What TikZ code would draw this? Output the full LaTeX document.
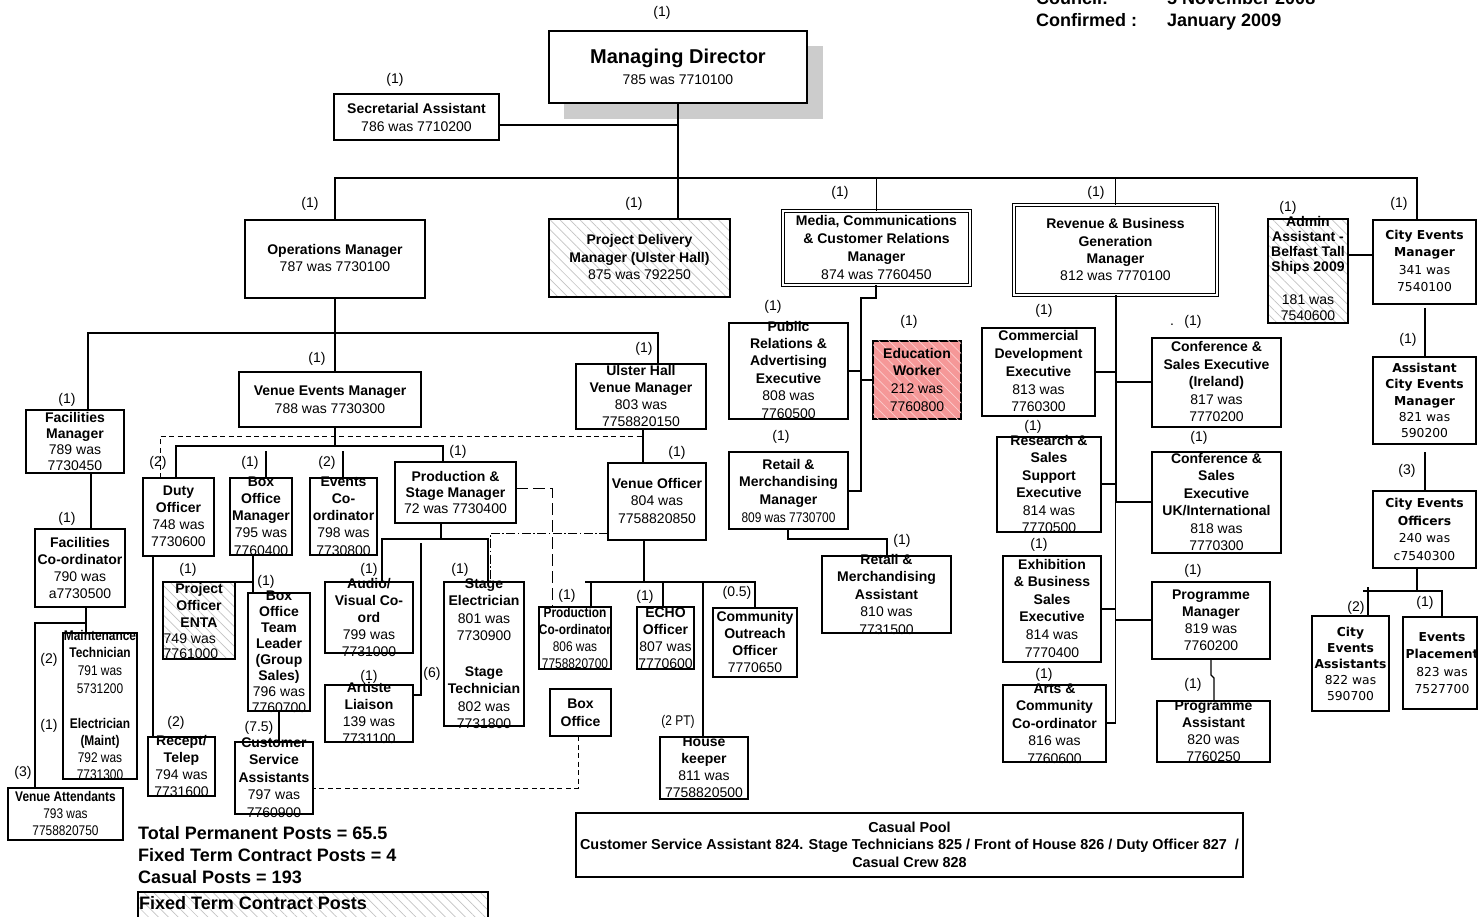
\documentclass[tikz,border=0pt]{standalone}
\usepackage{fontspec}
\setmainfont{Liberation Sans}
\newfontfamily\nar[FakeStretch=0.85]{Liberation Sans}
\newfontfamily\dv{DejaVu Sans}
\usetikzlibrary{patterns.meta}
\definecolor{shadowgray}{RGB}{204,204,204}
\definecolor{hatchgray}{RGB}{195,195,195}
\definecolor{edured}{RGB}{245,152,152}
\definecolor{edustripe}{RGB}{252,205,205}
\newcommand\bfx[1]{\textbf{#1}}
\newcommand\mlc[1]{\begin{tabular}[t]{@{}c@{}}#1\end{tabular}}
\newcommand\mll[1]{\begin{tabular}[t]{@{}l@{}}#1\end{tabular}}
\newcommand\bx[6]{\node[#6, minimum width={(#4-#2)*1pt}, minimum height={(#5-#3)*1pt}] (#1) at ({(#2+#4)/2},{(#3+#5)/2}) {};}
\tikzset{
 bxs/.style={draw, line width=1.1pt, inner sep=0pt, outer sep=0pt},
 hatch/.style={bxs, pattern={Lines[angle=-45,distance=7pt,line width=0.7pt]}, pattern color=hatchgray},
 dbl/.style={draw, double, double distance=2.2pt, line width=0.9pt, inner sep=0pt, outer sep=0pt},
 edubox/.style={bxs, fill=edured, postaction={pattern={Lines[angle=-45,distance=7pt,line width=0.7pt]}, pattern color=edustripe}},
 ln/.style={line width=1.1pt},
 thk/.style={line width=2pt},
 dsh/.style={line width=1pt, dash pattern=on 5pt off 3.5pt},
 ldsh/.style={line width=1pt, dash pattern=on 12pt off 5pt},
 ddot/.style={line width=0.9pt, dash pattern=on 9pt off 2.5pt on 1.5pt off 2.5pt},
 txt/.style={anchor=base, inner sep=0pt, font=\fontsize{14}{17.5}\selectfont},
 sk/.style={font=\fontsize{14}{#1}\selectfont},
 ntf/.style={font=\nar\fontsize{14}{#1}\selectfont},
 dvt/.style={font=\dv\fontsize{12.3}{#1}\selectfont},
 lab/.style={inner sep=0pt, font=\fontsize{14}{17}\selectfont},
 big/.style={anchor=base west, inner sep=0pt, font=\fontsize{18}{22}\selectfont\bfseries},
}
\begin{document}
\begin{tikzpicture}[x=1pt,y=-1pt]
\useasboundingbox (0,0) rectangle (1478,917);
\fill[white] (0,0) rectangle (1478,917);

% header
\node[big] (hc1) at (1036,4.5) {Council:};
\node[big] (hc2) at (1167,4.5) {5 November 2008};
\node[big] (hc3) at (1036,26.5) {Confirmed :};
\node[big] (hc4) at (1167,26.5) {January 2009};

% managing director
\node[fill=shadowgray, inner sep=0pt, minimum width=258.5pt, minimum height=73pt] (mdsh) at (693.25,82.5) {};
\bx{md}{549}{31}{807}{103}{bxs, fill=white}
\node[txt, font=\fontsize{20}{24}\selectfont\bfseries] (mdt) at (678,64) {Managing Director};
\node[txt] (mdn) at (678,85) {785 was 7710100};
\node[lab] (l1) at (662,13) {(1)};

\bx{sec}{334}{94}{499}{140}{bxs}
\node[txt,sk=18] (sect) at (416.5,114) {\mlc{\bfx{Secretarial Assistant}\\786 was 7710200}};
\node[lab] (l2) at (395,80) {(1)};

% level 2
\bx{opm}{245}{220}{425}{298}{bxs}
\node[txt,sk=17] (opmt) at (335,255) {\mlc{\bfx{Operations Manager}\\787 was 7730100}};
\bx{pdm}{549}{219}{730}{297}{hatch}
\node[txt,sk=17.5] (pdmt) at (639.5,245) {\mlc{\bfx{Project Delivery}\\\bfx{Manager (Ulster Hall)}\\875 was 792250}};
\bx{media}{783}{211}{970}{285}{dbl}
\node[txt,sk=17.7] (mediat) at (876.5,226) {\mlc{\bfx{Media, Communications}\\\bfx{\& Customer Relations}\\\bfx{Manager}\\874 was 7760450}};
\bx{rev}{1014}{205}{1217}{295}{dbl}
\node[txt,sk=17.3] (revt) at (1115.5,229) {\mlc{\bfx{Revenue \& Business}\\\bfx{Generation}\\\bfx{Manager}\\812 was 7770100}};
\bx{admin}{1268}{219}{1348}{323}{hatch}
\node[txt,sk=14.7] (admint) at (1308,227) {\mlc{\bfx{Admin}\\\bfx{Assistant -}\\\bfx{Belfast Tall}\\\bfx{Ships 2009}}};
\node[txt,sk=16] (adminn) at (1308,305) {\mlc{181 was\\7540600}};
\bx{cem}{1373}{220}{1476}{304}{bxs}
\node[txt,dvt=17.3] (cemt) at (1424.5,239.5) {\mlc{\bfx{City Events}\\\bfx{Manager}\\341 was\\7540100}};
\node[lab] (l3) at (310,204) {(1)};
\node[lab] (l4) at (634,204) {(1)};
\node[lab] (l5) at (840,193) {(1)};
\node[lab] (l6) at (1096,193) {(1)};
\node[lab] (l7) at (1288,208) {(1)};
\node[lab] (l8) at (1399,204) {(1)};

% city events branch
\bx{acem}{1373}{357}{1476}{444}{bxs}
\node[txt,dvt=16.3] (acemt) at (1424.5,372.5) {\mlc{\bfx{Assistant}\\\bfx{City Events}\\\bfx{Manager}\\821 was\\590200}};
\bx{ceo}{1373}{491}{1476}{568}{bxs}
\node[txt,dvt=17.7] (ceot) at (1424.5,507.5) {\mlc{\bfx{City Events}\\\bfx{Officers}\\240 was\\c7540300}};
\bx{cea}{1312}{616}{1389}{711}{bxs}
\node[txt,dvt=16] (ceat) at (1350.5,636.5) {\mlc{\bfx{City}\\\bfx{Events}\\\bfx{Assistants}\\822 was\\590700}};
\bx{ep}{1403}{617}{1477}{709}{bxs}
\node[txt,dvt=17.3] (ept) at (1442,641.5) {\mlc{\bfx{Events}\\\bfx{Placement}\\823 was\\7527700}};
\node[lab] (l9) at (1408,340) {(1)};
\node[lab] (l10) at (1407,471) {(3)};
\node[lab] (l11) at (1356,608) {(2)};
\node[lab] (l12) at (1425,603) {(1)};

% operations branch
\bx{fm}{26}{410}{124}{473}{bxs}
\node[txt,sk=16] (fmt) at (75,422) {\mlc{\bfx{Facilities}\\\bfx{Manager}\\789 was\\7730450}};
\bx{vem}{239}{372}{421}{427}{bxs}
\node[txt,sk=18] (vemt) at (330,395) {\mlc{\bfx{Venue Events Manager}\\788 was 7730300}};
\bx{uh}{576}{364}{706}{429}{bxs}
\node[txt,sk=17.3] (uht) at (641,375) {\mlc{\bfx{Ulster Hall}\\\bfx{Venue Manager}\\803 was\\7758820150}};
\node[lab] (l13) at (67,400) {(1)};
\node[lab] (l14) at (317,359) {(1)};
\node[lab] (l15) at (644,349) {(1)};

\bx{fc}{35}{529}{125}{607}{bxs}
\node[txt,sk=17.3] (fct) at (80,547) {\mlc{\bfx{Facilities}\\\bfx{Co-ordinator}\\790 was\\a7730500}};
\node[lab] (l16) at (67,519) {(1)};
\bx{maint}{63}{633}{137}{779}{bxs}
\node[txt,ntf=17.7] (maint1) at (100,640) {\mlc{\bfx{Maintenance}\\\bfx{Technician}\\791 was\\5731200}};
\node[txt,ntf=17.3] (maint2) at (100,728) {\mlc{\bfx{Electrician}\\\bfx{(Maint)}\\792 was\\7731300}};
\node[lab] (l17) at (49,660) {(2)};
\node[lab] (l18) at (49,726) {(1)};
\node[lab] (l19) at (23,773) {(3)};
\bx{va}{8}{788}{123}{840}{bxs}
\node[txt,ntf=17] (vat) at (65.5,801) {\mlc{\bfx{Venue Attendants}\\793 was\\7758820750}};

\bx{duty}{143}{478}{214}{556}{bxs}
\node[txt,sk=17.3] (dutyt) at (178.5,495) {\mlc{\bfx{Duty}\\\bfx{Officer}\\748 was\\7730600}};
\bx{bom}{230}{478}{292}{555}{bxs}
\node[txt,sk=17.3] (bomt) at (261,486) {\mlc{\bfx{Box}\\\bfx{Office}\\\bfx{Manager}\\795 was\\7760400}};
\bx{evc}{310}{478}{377}{555}{bxs}
\node[txt,sk=17.3] (evct) at (343.5,486) {\mlc{\bfx{Events}\\\bfx{Co-}\\\bfx{ordinator}\\798 was\\7730800}};
\bx{psm}{395}{462}{516}{523}{bxs}
\node[txt,sk=16] (psmt) at (455.5,481) {\mlc{\bfx{Production \&}\\\bfx{Stage Manager}\\72 was 7730400}};
\bx{vo}{608}{463}{706}{540}{bxs}
\node[txt,sk=17.5] (vot) at (657,488) {\mlc{\bfx{Venue Officer}\\804 was\\7758820850}};
\node[lab] (l20) at (158,463) {(2)};
\node[lab] (l21) at (250,463) {(1)};
\node[lab] (l22) at (327,463) {(2)};
\node[lab] (l23) at (458,452) {(1)};
\node[lab] (l24) at (677,453) {(1)};

\bx{po}{163}{582}{235}{659}{hatch}
\node[txt,sk=17] (pot) at (199,593) {\mlc{\bfx{Project}\\\bfx{Officer}\\\bfx{ENTA}}};
\node[txt,sk=15,anchor=base west] (pon) at (163.5,643) {\mll{749 was\\7761000}};
\bx{botl}{248}{593}{310}{711}{bxs}
\node[txt,sk=16] (botlt) at (279,600) {\mlc{\bfx{Box}\\\bfx{Office}\\\bfx{Team}\\\bfx{Leader}\\\bfx{(Group}\\\bfx{Sales)}\\796 was\\7760700}};
\bx{rt}{148}{737}{215}{796}{bxs}
\node[txt,sk=17] (rtt) at (181.5,745) {\mlc{\bfx{Recept/}\\\bfx{Telep}\\794 was\\7731600}};
\bx{csa}{235}{742}{313}{814}{bxs}
\node[txt,sk=17.5] (csat) at (274,747) {\mlc{\bfx{Customer}\\\bfx{Service}\\\bfx{Assistants}\\797 was\\7760900}};
\node[lab] (l25) at (188,570) {(1)};
\node[lab] (l26) at (266,582) {(1)};
\node[lab] (l27) at (176,723) {(2)};
\node[lab] (l28) at (259,728) {(7.5)};

\bx{av}{325}{582}{413}{653}{bxs}
\node[txt,sk=17] (avt) at (369,588) {\mlc{\bfx{Audio/}\\\bfx{Visual Co-}\\\bfx{ord}\\799 was\\7731000}};
\bx{al}{325}{685}{413}{742}{bxs}
\node[txt,sk=17.3] (alt) at (369,692) {\mlc{\bfx{Artiste}\\\bfx{Liaison}\\139 was\\7731100}};
\bx{se}{444}{582}{524}{726}{bxs}
\node[txt,sk=17.6] (set1) at (484,588) {\mlc{\bfx{Stage}\\\bfx{Electrician}\\801 was\\7730900}};
\node[txt,sk=17.6] (set2) at (484,676) {\mlc{\bfx{Stage}\\\bfx{Technician}\\802 was\\7731800}};
\node[lab] (l29) at (369,570) {(1)};
\node[lab] (l30) at (369,677) {(1)};
\node[lab] (l31) at (432,674) {(6)};
\node[lab] (l32) at (460,570) {(1)};

\bx{pc}{539}{607}{611}{669}{bxs}
\node[txt,ntf=17.3] (pct) at (575,617) {\mlc{\bfx{Production}\\\bfx{Co-ordinator}\\806 was\\7758820700}};
\bx{echo}{637}{607}{694}{669}{bxs}
\node[txt,sk=17.3] (echot) at (665.5,617) {\mlc{\bfx{ECHO}\\\bfx{Officer}\\807 was\\7770600}};
\bx{coo}{713}{608}{797}{677}{bxs}
\node[txt,sk=17.3] (coot) at (755,621) {\mlc{\bfx{Community}\\\bfx{Outreach}\\\bfx{Officer}\\7770650}};
\bx{boxo}{550}{689}{611}{736}{bxs}
\node[txt,sk=18] (boxot) at (580.5,708) {\mlc{\bfx{Box}\\\bfx{Office}}};
\bx{hk}{660}{737}{748}{799}{bxs}
\node[txt,sk=17.3] (hkt) at (704,746) {\mlc{\bfx{House}\\\bfx{keeper}\\811 was\\7758820500}};
\node[lab] (l33) at (567,596) {(1)};
\node[lab] (l34) at (645,597) {(1)};
\node[lab] (l35) at (737,593) {(0.5)};
\node[lab, font=\nar\fontsize{14}{17}\selectfont] (l36) at (678,722) {(2 PT)};

% media branch
\bx{pr}{729}{323}{848}{419}{bxs}
\node[txt,sk=17.4] (prt) at (788.5,331) {\mlc{\bfx{Public}\\\bfx{Relations \&}\\\bfx{Advertising}\\\bfx{Executive}\\808 was\\7760500}};
\bx{edu}{873}{341}{961}{419}{edubox}
\node[txt,sk=17.7] (edut) at (917,358) {\mlc{\bfx{Education}\\\bfx{Worker}\\212 was\\7760800}};
\bx{rmm}{729}{452}{848}{529}{bxs}
\node[txt,sk=17.5] (rmmt) at (788.5,469) {\mlc{\bfx{Retail \&}\\\bfx{Merchandising}\\\bfx{Manager}}};
\node[txt,ntf=17] (rmmn) at (788.5,522) {809 was 7730700};
\bx{rma}{822}{556}{951}{633}{bxs}
\node[txt,sk=17.5] (rmat) at (886.5,564) {\mlc{\bfx{Retail \&}\\\bfx{Merchandising}\\\bfx{Assistant}\\810 was\\7731500}};
\node[lab] (l37) at (773,307) {(1)};
\node[lab] (l38) at (909,322) {(1)};
\node[lab] (l39) at (781,437) {(1)};
\node[lab] (l40) at (902,541) {(1)};

% revenue branch
\bx{cde}{982}{328}{1095}{416}{bxs}
\node[txt,sk=17.7] (cdet) at (1038.5,341) {\mlc{\bfx{Commercial}\\\bfx{Development}\\\bfx{Executive}\\813 was\\7760300}};
\bx{csei}{1152}{338}{1281}{427}{bxs}
\node[txt,sk=17.5] (cseit) at (1216.5,352) {\mlc{\bfx{Conference \&}\\\bfx{Sales Executive}\\\bfx{(Ireland)}\\817 was\\7770200}};
\bx{rss}{997}{437}{1101}{532}{bxs}
\node[txt,sk=17.5] (rsst) at (1049,445) {\mlc{\bfx{Research \&}\\\bfx{Sales}\\\bfx{Support}\\\bfx{Executive}\\814 was\\7770500}};
\bx{cseuk}{1152}{452}{1281}{553}{bxs}
\node[txt,sk=17.5] (cseukt) at (1216.5,463) {\mlc{\bfx{Conference \&}\\\bfx{Sales}\\\bfx{Executive}\\\bfx{UK/International}\\818 was\\7770300}};
\bx{ebse}{1003}{556}{1101}{662}{bxs}
\node[txt,sk=17.6] (ebset) at (1052,569) {\mlc{\bfx{Exhibition}\\\bfx{\& Business}\\\bfx{Sales}\\\bfx{Executive}\\814 was\\7770400}};
\bx{pm}{1152}{582}{1270}{659}{bxs}
\node[txt,sk=17.3] (pmt) at (1211,599) {\mlc{\bfx{Programme}\\\bfx{Manager}\\819 was\\7760200}};
\bx{pa}{1157}{701}{1270}{762}{bxs}
\node[txt,sk=17.3] (pat) at (1213.5,710) {\mlc{\bfx{Programme}\\\bfx{Assistant}\\820 was\\7760250}};
\bx{acc}{1003}{685}{1106}{762}{bxs}
\node[txt,sk=17.5] (acct) at (1054.5,693) {\mlc{\bfx{Arts \&}\\\bfx{Community}\\\bfx{Co-ordinator}\\816 was\\7760600}};
\node[lab] (l41) at (1044,311) {(1)};
\node[lab] (l42) at (1172,325) {.};
\node[lab] (l43) at (1193,322) {(1)};
\node[lab] (l44) at (1033,427) {(1)};
\node[lab] (l45) at (1199,438) {(1)};
\node[lab] (l46) at (1039,545) {(1)};
\node[lab] (l47) at (1193,571) {(1)};
\node[lab] (l48) at (1044,675) {(1)};
\node[lab] (l49) at (1193,685) {(1)};

% casual pool and totals
\bx{casual}{576}{813}{1243}{877}{bxs}
\node[txt, font=\fontsize{14.4}{17.5}\selectfont\bfseries] (casualt) at (909.5,832) {\mlc{Casual Pool\\Customer Service Assistant 824. Stage Technicians 825 / Front of House 826 / Duty Officer 827~~/\\Casual Crew 828}};
\node[big] (totals) at (138,839.5) {\mll{Total Permanent Posts = 65.5\\Fixed Term Contract Posts = 4\\Casual Posts = 193}};
\bx{ftc}{138}{892}{488}{935}{hatch}
\node[big] (ftct) at (139,909.5) {Fixed Term Contract Posts};

% connectors: top
\draw[ln] (md.south) -- (md.south|-pdm.north);
\draw[ln] (sec.east|-0,125) -- (md.south|-0,125);
\draw[ln] (opm.north) -- (opm.north|-0,178) -- (1417,178) -- (cem.north-|1417,0);
\draw[ln] (media.north) -- (media.north|-0,178);
\draw[ln] (rev.north) -- (rev.north|-0,178);
\draw[ln] (admin.east|-0,255) -- (cem.west|-0,255);
% operations
\draw[ln] (opm.south) -- (opm.south|-0,333);
\draw[ln] (fm.north-|88,0) -- (88,333) -- (658,333) -- (uh.north-|658,0);
\draw[ln] (vem.north-|335,0) -- (335,333);
\draw[ln] (fm.south-|91,0) -- (fc.north-|91,0);
\draw[ln] (fc.south-|86,0) -- (maint.north-|86,0);
\draw[ln] (86,623) -- (35,623) -- (va.north-|35,0);
\draw[ln] (vem.south-|335,0) -- (335,446);
\draw[ln] (duty.north-|176,0) -- (176,446) -- (443,446) -- (psm.north-|443,0);
\draw[ln] (266,451) -- (bom.north-|266,0);
\draw[ln] (343,451) -- (evc.north-|343,0);
\draw[dsh] (duty.north-|160,0) -- (160,436) -- (643,436);
\draw[ln] (uh.south-|643,0) -- (vo.north-|643,0);
\draw[ln] (duty.south-|153,0) -- (rt.north-|153,0);
\draw[ln] (bom.south-|253,0) -- (botl.north-|253,0);
\draw[ln] (po.north east) -- (253,582);
\draw[ln] (botl.south-|279,0) -- (csa.north-|279,0);
\draw[ln] (psm.south-|441,0) -- (441,539);
\draw[ln] (av.north-|382,0) -- (382,539) -- (488,539) -- (se.north-|488,0);
\draw[ln] (421,543) -- (421,695) -- (al.east|-0,695);
\draw[ldsh] (psm.east|-0,488) -- (552,488) -- (pc.north-|552,0);
\draw[ddot] (vo.west|-0,533) -- (490,533) -- (490,580);
\draw[dsh] (boxo.south-|578,0) -- (578,788) -- (csa.east|-0,788);
\draw[ln] (vo.south-|644,0) -- (644,582);
\draw[ln] (585,582) -- (755,582) -- (coo.north-|755,0);
\draw[ln] (591,582) -- (pc.north-|591,0);
\draw[ln] (663,582) -- (echo.north-|663,0);
\draw[ln] (703,582) -- (hk.north-|703,0);
% media
\draw[ln] (media.south-|876,0) -- (876,298) -- (861,298) -- (861,491) -- (rmm.east|-0,491);
\draw[ln] (pr.east|-0,371) -- (861,371);
\draw[ln] (861,380) -- (edu.west|-0,380);
\draw[ln] (rmm.south-|788,0) -- (788,539) -- (887,539) -- (rma.north-|887,0);
% revenue
\draw[thk] (rev.south) -- (1115.5,502);
\draw[ln] (1115.5,502) -- (1115.5,723);
\draw[ln] (cde.east|-0,372) -- (1116,372);
\draw[ln] (1116,382) -- (csei.west|-0,382);
\draw[ln] (rss.east|-0,484) -- (1116,484);
\draw[ln] (1116,502) -- (cseuk.west|-0,502);
\draw[ln] (ebse.east|-0,609) -- (1116,609);
\draw[ln] (1116,620) -- (pm.west|-0,620);
\draw[ln] (acc.east|-0,723) -- (1116,723);
\draw[ln] (pm.south-|1211,0) -- (1211,675) -- (1214,678) -- (pa.north-|1214,0);
% city events
\draw[ln] (1425,308) -- (acem.north-|1425,0);
\draw[ln] (1425,452) -- (ceo.north-|1425,0);
\draw[ln] (ceo.south-|1417,0) -- (1417,591);
\draw[ln] (1363,591) -- (1442,591) -- (ep.north-|1442,0);
\draw[ln] (1368,587) -- (cea.north-|1368,0);
\end{tikzpicture}
\end{document}
